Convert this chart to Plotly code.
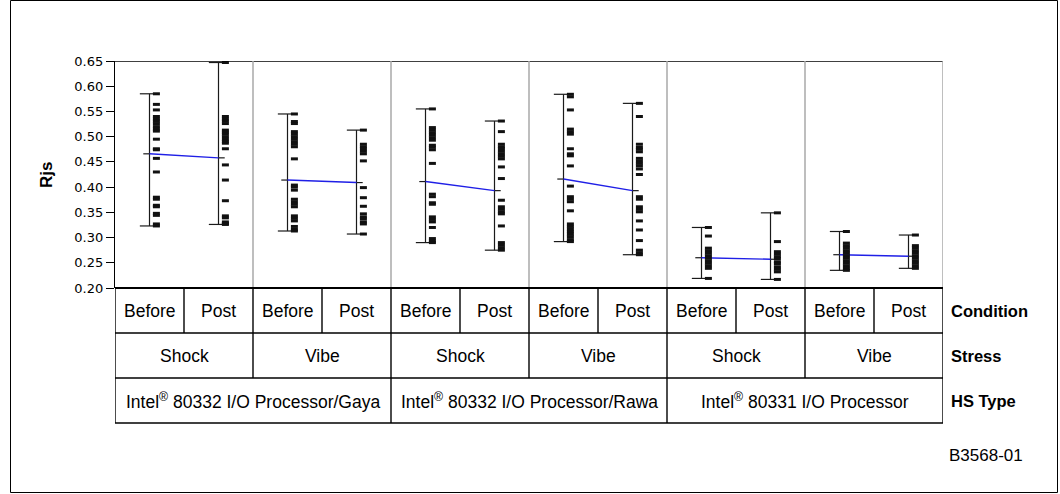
import plotly.graph_objects as go

# ---------------- data ----------------
hs_types = ["Intel<sup>®</sup> 80332 I/O Processor/Gaya",
            "Intel<sup>®</sup> 80332 I/O Processor/Rawa",
            "Intel<sup>®</sup> 80331 I/O Processor"]
stresses = ["Shock", "Vibe", "Shock", "Vibe", "Shock", "Vibe"]
conditions = ["Before", "Post"]
row_labels = ["Condition", "Stress", "HS Type"]
y_ticks = [0.20, 0.25, 0.30, 0.35, 0.40, 0.45, 0.50, 0.55, 0.60, 0.65]

gaya_shock_before = [0.585, 0.564, 0.553, 0.540, 0.535, 0.531, 0.526, 0.520, 0.515, 0.511, 0.495, 0.476,
                     0.474, 0.457, 0.430, 0.380, 0.376, 0.364, 0.361, 0.348, 0.344, 0.327, 0.323]
gaya_shock_post = [0.647, 0.540, 0.535, 0.531, 0.526, 0.513, 0.509, 0.505, 0.500, 0.495, 0.491, 0.487,
                   0.476, 0.444, 0.414, 0.373, 0.343, 0.339, 0.331, 0.328, 0.326]
gaya_vibe_before = [0.545, 0.530, 0.526, 0.510, 0.505, 0.500, 0.495, 0.490, 0.485, 0.480, 0.456, 0.404,
                    0.400, 0.394, 0.376, 0.371, 0.366, 0.361, 0.343, 0.338, 0.333, 0.322, 0.316, 0.313]
gaya_vibe_post = [0.513, 0.485, 0.480, 0.476, 0.471, 0.466, 0.452, 0.399, 0.379, 0.362, 0.347, 0.341,
                  0.337, 0.331, 0.327, 0.307]
rawa_shock_before = [0.555, 0.518, 0.513, 0.508, 0.503, 0.498, 0.493, 0.483, 0.479, 0.474, 0.447, 0.386,
                     0.381, 0.369, 0.366, 0.341, 0.336, 0.331, 0.320, 0.298, 0.293, 0.290]
rawa_shock_post = [0.531, 0.510, 0.485, 0.480, 0.476, 0.471, 0.466, 0.461, 0.456, 0.440, 0.417, 0.374,
                   0.361, 0.356, 0.351, 0.347, 0.323, 0.290, 0.285, 0.280, 0.275]
rawa_vibe_before = [0.584, 0.579, 0.553, 0.515, 0.510, 0.505, 0.476, 0.466, 0.462, 0.442, 0.402, 0.381,
                    0.376, 0.371, 0.353, 0.327, 0.322, 0.317, 0.312, 0.307, 0.302, 0.296, 0.292]
rawa_vibe_post = [0.566, 0.540, 0.485, 0.479, 0.475, 0.470, 0.457, 0.452, 0.447, 0.442, 0.436, 0.425,
                  0.381, 0.376, 0.361, 0.356, 0.351, 0.333, 0.315, 0.294, 0.275, 0.270, 0.266]
i331_shock_before = [0.320, 0.303, 0.279, 0.274, 0.269, 0.264, 0.259, 0.254, 0.249, 0.244, 0.239, 0.219]
i331_shock_post = [0.349, 0.292, 0.272, 0.267, 0.262, 0.258, 0.252, 0.248, 0.242, 0.237, 0.232, 0.217]
i331_vibe_before = [0.312, 0.289, 0.284, 0.279, 0.274, 0.269, 0.264, 0.259, 0.254, 0.249, 0.244, 0.239, 0.235]
i331_vibe_post = [0.305, 0.284, 0.279, 0.274, 0.269, 0.264, 0.259, 0.254, 0.249, 0.244, 0.239]

groups = [gaya_shock_before, gaya_shock_post, gaya_vibe_before, gaya_vibe_post,
          rawa_shock_before, rawa_shock_post, rawa_vibe_before, rawa_vibe_post,
          i331_shock_before, i331_shock_post, i331_vibe_before, i331_vibe_post]
group_means = [0.466, 0.458, 0.414, 0.409, 0.411, 0.393, 0.416, 0.393, 0.260, 0.257, 0.266, 0.263]

# ---------------- figure ----------------
FONT = "Liberation Sans, Arial, Helvetica, sans-serif"
fig = go.Figure()

PT_OFF = 0.05   # points sit slightly right of the whisker
CAP = 0.07
TICK = 0.045

px, py = [], []
wx, wy = [], []
mx, my = [], []
for gi, vals in enumerate(groups):
    c = gi * 0.5 + 0.25
    px += [c + PT_OFF] * len(vals)
    py += vals
    lo, hi = min(vals), max(vals)
    wx += [c, c, None, c - CAP, c + CAP, None, c - CAP, c + CAP, None]
    wy += [lo, hi, None, lo, lo, None, hi, hi, None]
    m = group_means[gi]
    if gi % 2 == 0:
        mx += [c - TICK, c, None]
    else:
        mx += [c, c + TICK, None]
    my += [m, m, None]

# whiskers
fig.add_trace(go.Scatter(x=wx, y=wy, mode="lines", line=dict(color="#1a1a1a", width=1.2),
                         hoverinfo="skip", showlegend=False))
# mean ticks
fig.add_trace(go.Scatter(x=mx, y=my, mode="lines", line=dict(color="#1a1a1a", width=1.2),
                         hoverinfo="skip", showlegend=False))
# mean connecting lines
for p in range(6):
    fig.add_trace(go.Scatter(x=[p + 0.25, p + 0.75], y=[group_means[2 * p], group_means[2 * p + 1]],
                             mode="lines", line=dict(color="#1f1fe6", width=1.4),
                             hoverinfo="skip", showlegend=False))
# points
fig.add_trace(go.Scatter(x=px, y=py, mode="markers",
                         marker=dict(symbol="line-ew", size=5, line=dict(color="#111111", width=3)),
                         showlegend=False, hovertemplate="%{y:.3f}<extra></extra>"))

# ---------------- layout geometry ----------------
W, H = 1060, 494
L, R, T, B = 115, 943, 61, 288
pw, ph = R - L, B - T


def ypaper(pix):
    return (B - pix) / ph


def xpaper(pix):
    return (pix - L) / pw


shapes = []
shapes.append(dict(type="line", xref="x", yref="y", x0=0, x1=6, y0=0.65, y1=0.65,
                   line=dict(color="black", width=1.5)))
for k in range(1, 7):
    shapes.append(dict(type="line", xref="x", yref="y", x0=k, x1=k, y0=0.20, y1=0.65,
                       line=dict(color="#a8a8a8", width=1.5)))

# table rows
row_pix = [288, 333, 378, 423]
row_y = [ypaper(p) for p in row_pix]
for i, yy in enumerate(row_y):
    shapes.append(dict(type="line", xref="x", yref="paper", x0=0, x1=6, y0=yy, y1=yy,
                       line=dict(color="black", width=2.2 if i == 0 else 1.4)))
cond_edges = [k * 0.5 for k in range(13)]
stress_edges = list(range(7))
hs_edges = [0, 2, 4, 6]
for r, edges in enumerate([cond_edges, stress_edges, hs_edges]):
    for e in edges:
        shapes.append(dict(type="line", xref="x", yref="paper", x0=e, x1=e,
                           y0=row_y[r], y1=row_y[r + 1], line=dict(color="black", width=1.4)))

# outer border
shapes.append(dict(type="rect", xref="paper", yref="paper",
                   x0=xpaper(10.5), x1=xpaper(1057.5), y0=ypaper(492.5), y1=ypaper(0.5),
                   line=dict(color="black", width=1), fillcolor="rgba(0,0,0,0)"))

annotations = []
cell_font = dict(family=FONT, size=17.5, color="black")
mid = [(row_y[i] + row_y[i + 1]) / 2 for i in range(3)]
for k in range(12):
    annotations.append(dict(x=k * 0.5 + 0.25, y=mid[0], xref="x", yref="paper",
                            xanchor="center", yanchor="middle",
                            text=conditions[k % 2], showarrow=False, font=cell_font))
for k in range(6):
    annotations.append(dict(x=k + 0.5, y=mid[1], xref="x", yref="paper",
                            xanchor="center", yanchor="middle",
                            text=stresses[k], showarrow=False, font=cell_font))
for k in range(3):
    annotations.append(dict(x=2 * k + 1, y=mid[2], xref="x", yref="paper",
                            xanchor="center", yanchor="middle",
                            text=hs_types[k], showarrow=False, font=cell_font))
for r in range(3):
    annotations.append(dict(x=xpaper(949), y=mid[r], xref="paper", yref="paper",
                            xanchor="left", yanchor="middle",
                            text="<b>" + row_labels[r] + "</b>", showarrow=False,
                            font=dict(family=FONT, size=16.5, color="black")))
# y-axis title
annotations.append(dict(x=xpaper(46), y=ypaper(175), xref="paper", yref="paper", textangle=-90,
                        xanchor="center", yanchor="middle",
                        text="<b>Rjs</b>", showarrow=False,
                        font=dict(family=FONT, size=17, color="black")))
# figure id
annotations.append(dict(x=xpaper(986), y=ypaper(455), xref="paper", yref="paper",
                        xanchor="center", yanchor="middle",
                        text="B3568-01", showarrow=False,
                        font=dict(family=FONT, size=17, color="black")))

fig.update_layout(
    width=W, height=H,
    margin=dict(l=L, r=W - R, t=T, b=H - B, pad=0),
    paper_bgcolor="white", plot_bgcolor="white",
    xaxis=dict(range=[0, 6], showticklabels=False, showgrid=False, zeroline=False,
               showline=False, ticks="", fixedrange=True),
    yaxis=dict(range=[0.20, 0.65], tickvals=y_ticks, ticktext=["%.2f" % v for v in y_ticks],
               ticks="outside", ticklen=8, tickwidth=1, tickcolor="black",
               showline=True, linecolor="black", linewidth=1.2, showgrid=False, zeroline=False,
               tickfont=dict(family="DejaVu Sans", size=13, color="black"), fixedrange=True),
    shapes=shapes,
    annotations=annotations,
    showlegend=False,
)

fig.write_html("out.html", config={"displayModeBar": False},
               post_script="document.body.style.margin='0';document.body.style.overflow='hidden';")
